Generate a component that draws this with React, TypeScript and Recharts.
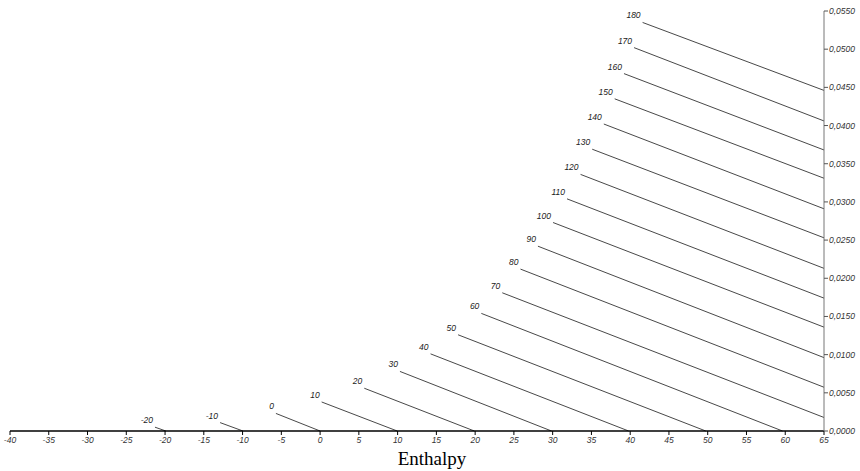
import { LineChart, Line, XAxis, YAxis } from "recharts";

// Constant-enthalpy lines.
// Each line runs from the saturation curve down to the x axis or the right edge.

const enthalpies = [-20, -10, 0, 10, 20, 30, 40, 50, 60, 70, 80, 90, 100, 110, 120, 130, 140, 150, 160, 170, 180];

const startT = [-21.3, -12.9, -5.7, 0.2, 5.7, 10.3, 14.25, 17.8, 20.8, 23.5, 25.85, 28.1, 30.05, 31.85, 33.6, 35.1, 36.6, 38.0, 39.2, 40.5, 41.6];
const startW = [0.0005, 0.0011, 0.0023, 0.0038, 0.0056, 0.0078, 0.0101, 0.0126, 0.0154, 0.0181, 0.0212, 0.0242, 0.0273, 0.0304, 0.0336, 0.0369, 0.0402, 0.0435, 0.0468, 0.0502, 0.0535];

const endT = [-19.9, -9.95, 0, 9.95, 19.9, 29.85, 39.8, 49.75, 59.65, 65, 65, 65, 65, 65, 65, 65, 65, 65, 65, 65, 65];
const endW = [0, 0, 0, 0, 0, 0, 0, 0, 0, 0.00177, 0.00573, 0.00961, 0.0136, 0.0174, 0.0213, 0.0253, 0.0291, 0.0331, 0.0368, 0.0406, 0.0446];

const xTicks = [-40, -35, -30, -25, -20, -15, -10, -5, 0, 5, 10, 15, 20, 25, 30, 35, 40, 45, 50, 55, 60, 65];
const yTicks = [0, 0.005, 0.01, 0.015, 0.02, 0.025, 0.03, 0.035, 0.04, 0.045, 0.05, 0.055];

const FONT = "'Liberation Sans', Arial, sans-serif";

const lines = enthalpies.map((h, i) => ({
  h,
  data: [
    { t: startT[i], w: startW[i] },
    { t: endT[i], w: endW[i] },
  ],
}));

function makeLabel(h: number) {
  return (props: any) => {
    const { x, y, index } = props;
    if (index !== 0) return null;
    return (
      <text
        x={x - 2}
        y={y - 4}
        textAnchor="end"
        fontSize={8.5}
        fontStyle="italic"
        fontFamily={FONT}
        fill="#222"
      >
        {h}
      </text>
    );
  };
}

export default function App() {
  return (
    <div style={{ position: "absolute", left: 0, top: 0, background: "#fff" }}>
      <LineChart
        width={860}
        height={471}
        margin={{ top: 11, right: 0, bottom: 0, left: 10 }}
      >
        <XAxis
          dataKey="t"
          type="number"
          domain={[-40, 65]}
          ticks={xTicks}
          interval={0}
          allowDataOverflow
          height={40}
          tickSize={4}
          tickMargin={2}
          axisLine={{ stroke: "#000", strokeWidth: 1.3 }}
          tickLine={{ stroke: "#000" }}
          tick={{ fontSize: 8.5, fontStyle: "italic", fill: "#333", fontFamily: FONT }}
          label={{
            value: "Enthalpy",
            position: "insideBottom",
            offset: 6,
            dx: 15,
            style: {
              fontSize: 19,
              fontFamily: "'Liberation Serif', 'Times New Roman', serif",
              fill: "#000",
              fontStyle: "normal",
            },
          }}
        />
        <YAxis
          orientation="right"
          type="number"
          domain={[0, 0.055]}
          ticks={yTicks}
          interval={0}
          width={36}
          tickSize={4}
          tickMargin={1}
          axisLine={{ stroke: "#777" }}
          tickLine={{ stroke: "#555" }}
          tickFormatter={(v: number) => v.toFixed(4).replace(".", ",")}
          tick={{ fontSize: 8.5, fontStyle: "italic", fill: "#333", fontFamily: FONT }}
        />
        {lines.map((l) => (
          <Line
            key={l.h}
            data={l.data}
            dataKey="w"
            stroke="#333"
            strokeWidth={0.9}
            dot={false}
            activeDot={false}
            isAnimationActive={false}
            label={makeLabel(l.h)}
          />
        ))}
      </LineChart>
    </div>
  );
}
